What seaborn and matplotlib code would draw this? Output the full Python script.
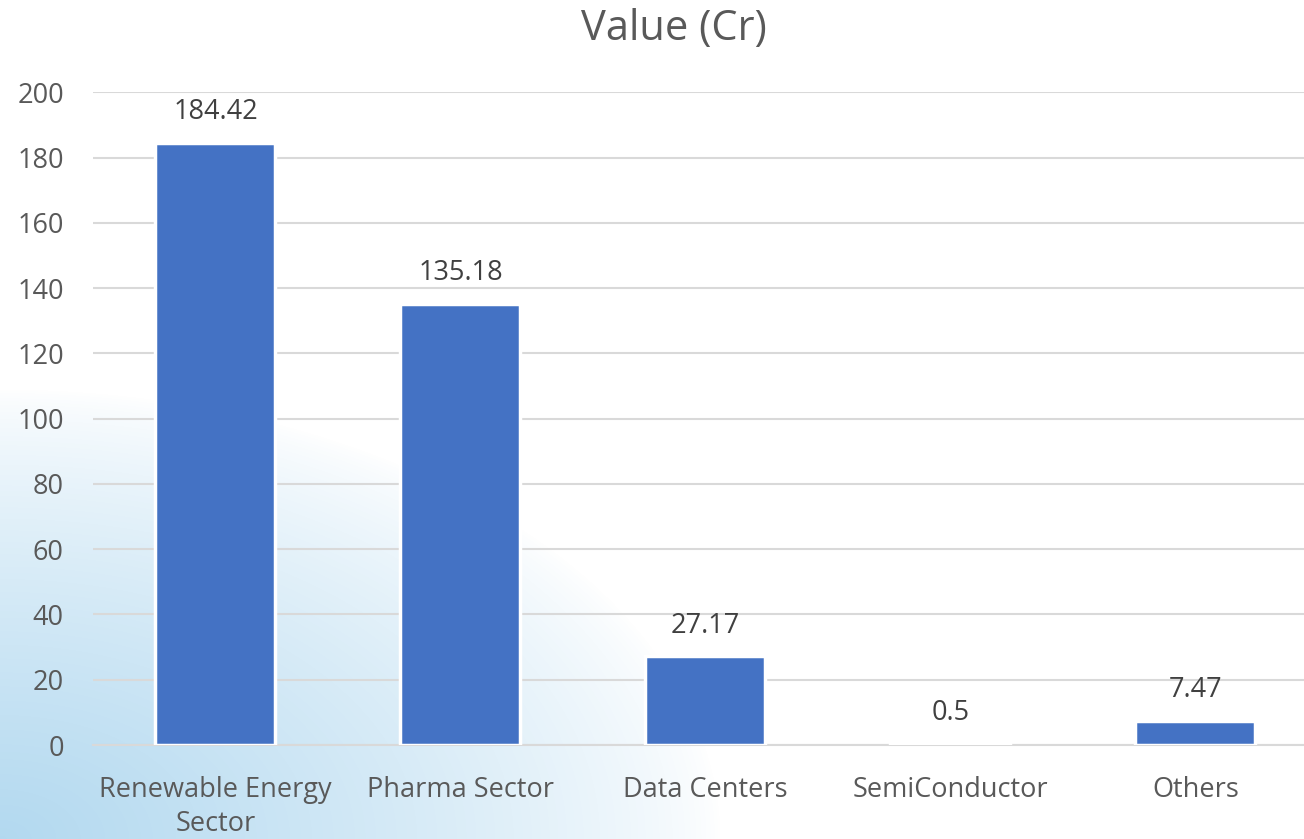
import numpy as np
import pandas as pd
import seaborn as sns
import matplotlib
matplotlib.use('Agg')
import matplotlib.pyplot as plt

# data
sectors = ['Renewable Energy\nSector', 'Pharma Sector', 'Data Centers', 'SemiConductor', 'Others']
values = [184.42, 135.18, 27.17, 0.5, 7.47]
value_labels = ['184.42', '135.18', '27.17', '0.5', '7.47']
yticks = [0, 20, 40, 60, 80, 100, 120, 140, 160, 180, 200]

df = pd.DataFrame({'Sector': sectors, 'Value': values})

sns.set_theme(style='white')
plt.rcParams['font.family'] = ['Open Sans', 'DejaVu Sans']
txt_col = '#595959'
grid_col = '#d9d9d9'

fig = plt.figure(figsize=(13.04, 8.39), dpi=100)

# light blue wash in the bottom-left corner
bg = fig.add_axes([0, 0, 1, 1], zorder=-1)
h, w = 839, 1304
yy, xx = np.mgrid[0:h, 0:w]
d = np.sqrt((xx / 720.0) ** 2 + ((h - yy) / 450.0) ** 2)
a = np.clip(1 - d, 0, 1) ** 0.75
blue = np.array([0.70, 0.85, 0.94])
img = np.ones((h, w, 3)) * (1 - a[..., None]) + blue * a[..., None]
bg.imshow(img, aspect='auto', extent=[0, 1, 0, 1], origin='upper')
bg.axis('off')

# plot area runs slightly past the right edge of the picture
ax = fig.add_axes([0.0713, 0.112, 0.9394, 0.778])
ax.set_facecolor('none')
sns.barplot(data=df, x='Sector', y='Value', color='#4472c4', width=0.49,
            edgecolor='white', linewidth=2.5, saturation=1, ax=ax, zorder=3)

for i, v in enumerate(values):
    ax.annotate(value_labels[i], (i, v), xytext=(0, 12), textcoords='offset points',
                ha='center', va='bottom', fontsize=19.5, color='#404040')

ax.set_ylim(0, 200)
ax.set_xlim(-0.5, 4.5)
ax.set_yticks(yticks)
ax.yaxis.grid(True, color=grid_col, linewidth=1.5, zorder=0)
ax.set_axisbelow(True)
for s in ['top', 'right', 'left']:
    ax.spines[s].set_visible(False)
ax.spines['bottom'].set_color(grid_col)
ax.spines['bottom'].set_linewidth(1.5)
ax.set_xlabel('')
ax.set_ylabel('')
ax.tick_params(axis='y', length=0, labelsize=19.5, labelcolor=txt_col, pad=21)
ax.tick_params(axis='x', which='major', length=0, labelsize=19.5, labelcolor=txt_col, pad=22)
for lbl in ax.get_xticklabels():
    lbl.set_linespacing(1.3)
ax.set_xticks(np.arange(-0.5, 5.0, 1.0), minor=True)
ax.tick_params(axis='x', which='minor', length=8, width=1.5, color=grid_col, direction='out')

fig.suptitle('Value (Cr)', x=0.517, y=0.99, fontsize=30, color=txt_col)

fig.savefig('out.png', dpi=100)
